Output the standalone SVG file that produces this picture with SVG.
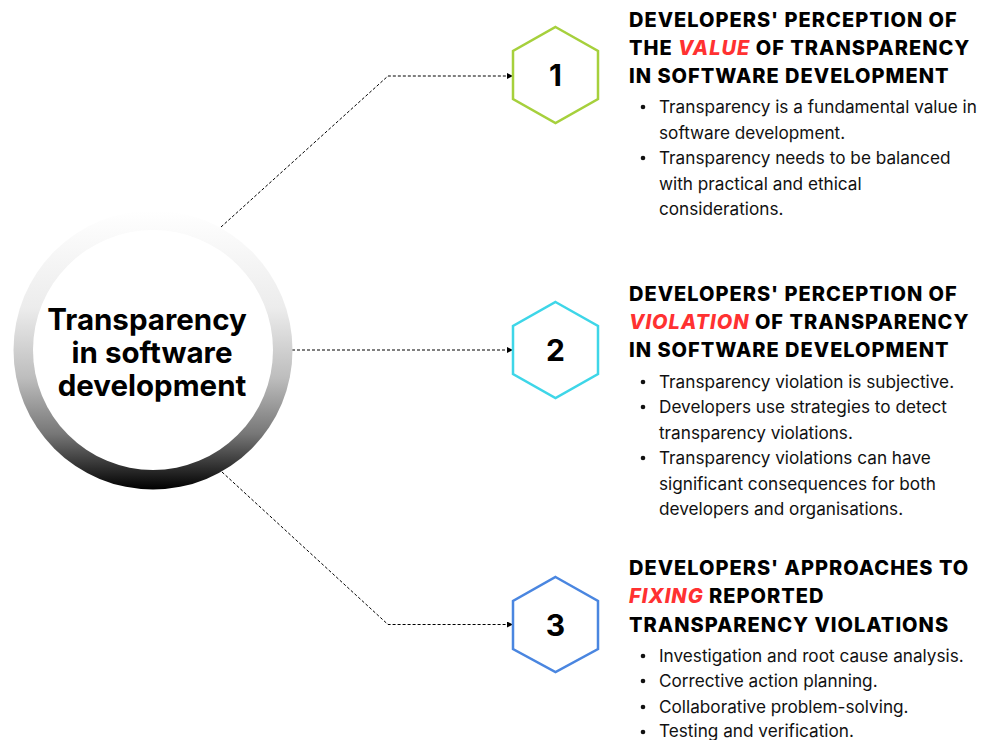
<svg xmlns="http://www.w3.org/2000/svg" width="981" height="740" viewBox="0 0 981 740">
<style>
.hex{fill:#fff;stroke-width:2.5;stroke-linejoin:miter}
.num{font-family:Inter,"Liberation Sans",sans-serif;font-weight:700;font-size:30px;fill:#000;text-anchor:middle}
.conn{fill:none;stroke:#000;stroke-width:1;stroke-dasharray:3 2}
.head{font-family:Inter,"Liberation Sans",sans-serif;font-weight:800;font-size:20px;letter-spacing:1px;fill:#000}
.red{fill:#ff3131;font-style:italic}
.body{font-family:Inter,"Liberation Sans",sans-serif;font-size:17.2px;fill:#111}
.ctr{font-family:Inter,"Liberation Sans",sans-serif;font-weight:700;font-size:29.5px;fill:#000;text-anchor:middle}
</style>
<defs>
<linearGradient id="ring" x1="0" y1="0" x2="0" y2="1">
<stop offset="0" stop-color="#ffffff"/>
<stop offset="0.35" stop-color="#ececec"/>
<stop offset="0.6" stop-color="#bdbdbd"/>
<stop offset="0.8" stop-color="#777"/>
<stop offset="1" stop-color="#000"/>
</linearGradient>
<marker id="arr" viewBox="0 0 6 6" refX="5" refY="3" markerWidth="6" markerHeight="6" markerUnits="userSpaceOnUse" orient="auto">
<path d="M0,0 L6,3 L0,6 z" fill="#000"/>
</marker>
</defs>
<rect width="981" height="740" fill="#fff"/>
<g id="connectors">
<path class="conn" d="M221,227 L388,76 L512,76" marker-end="url(#arr)"/>
<path class="conn" d="M292,350 L512,350" marker-end="url(#arr)"/>
<path class="conn" d="M222,472 L388,624.5 L512,624.5" marker-end="url(#arr)"/>
</g>
<g id="center">
<circle cx="153" cy="350" r="139.5" fill="url(#ring)"/>
<circle cx="153" cy="350" r="120" fill="#fff"/>
<text class="ctr" x="147" y="330">Transparency</text>
<text class="ctr" x="152" y="363">in software</text>
<text class="ctr" x="152" y="396">development</text>
</g>
<g id="node1">
<polygon class="hex" stroke="#a6d03c" points="555.5,27 598,51 598,99 555.5,123 513,99 513,51"/>
<text class="num" x="555.5" y="86">1</text>
</g>
<g id="node2">
<polygon class="hex" stroke="#3ed6e8" points="555.5,302 598,326 598,374 555.5,398 513,374 513,326"/>
<text class="num" x="555.5" y="361">2</text>
</g>
<g id="node3">
<polygon class="hex" stroke="#4a86e0" points="555.5,577 598,601 598,649 555.5,672 513,649 513,601"/>
<text class="num" x="555.5" y="636">3</text>
</g>
<g id="text1">
<text class="head" x="629" y="27">DEVELOPERS' PERCEPTION OF</text>
<text class="head" x="629" y="55">THE <tspan class="red">VALUE</tspan> OF TRANSPARENCY</text>
<text class="head" x="629" y="83">IN SOFTWARE DEVELOPMENT</text>
<g class="body">
<circle cx="643" cy="107" r="2.3" fill="#111"/>
<text x="659" y="113">Transparency is a fundamental value in</text>
<text x="659" y="139">software development.</text>
<circle cx="643" cy="158" r="2.3" fill="#111"/>
<text x="659" y="164">Transparency needs to be balanced</text>
<text x="659" y="190">with practical and ethical</text>
<text x="659" y="215">considerations.</text>
</g>
</g>
<g id="text2">
<text class="head" x="629" y="301">DEVELOPERS' PERCEPTION OF</text>
<text class="head" x="629" y="329"><tspan class="red">VIOLATION</tspan> OF TRANSPARENCY</text>
<text class="head" x="629" y="357">IN SOFTWARE DEVELOPMENT</text>
<g class="body">
<circle cx="643" cy="382" r="2.3" fill="#111"/>
<text x="659" y="388">Transparency violation is subjective.</text>
<circle cx="643" cy="407" r="2.3" fill="#111"/>
<text x="659" y="413">Developers use strategies to detect</text>
<text x="659" y="439">transparency violations.</text>
<circle cx="643" cy="458" r="2.3" fill="#111"/>
<text x="659" y="464">Transparency violations can have</text>
<text x="659" y="490">significant consequences for both</text>
<text x="659" y="515">developers and organisations.</text>
</g>
</g>
<g id="text3">
<text class="head" x="629" y="575">DEVELOPERS' APPROACHES TO</text>
<text class="head" x="629" y="603"><tspan class="red">FIXING</tspan> REPORTED</text>
<text class="head" x="629" y="632">TRANSPARENCY VIOLATIONS</text>
<g class="body">
<circle cx="643" cy="656" r="2.3" fill="#111"/>
<text x="659" y="662">Investigation and root cause analysis.</text>
<circle cx="643" cy="681" r="2.3" fill="#111"/>
<text x="659" y="687">Corrective action planning.</text>
<circle cx="643" cy="707" r="2.3" fill="#111"/>
<text x="659" y="713">Collaborative problem-solving.</text>
<circle cx="643" cy="732" r="2.3" fill="#111"/>
<text x="659" y="737">Testing and verification.</text>
</g>
</g>
</svg>
